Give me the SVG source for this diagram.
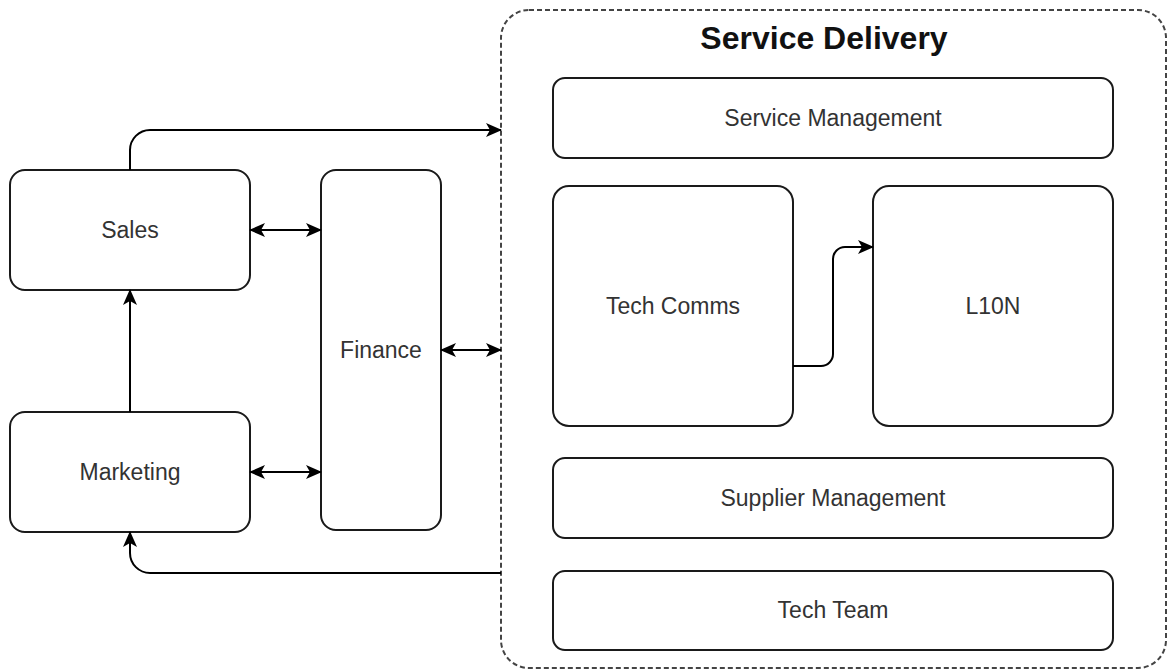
<svg xmlns="http://www.w3.org/2000/svg" width="1168" height="670" viewBox="0 0 1168 670">
  <style>
    .box { fill: #ffffff; stroke: #1a1a1a; stroke-width: 2; }
    .group { fill: none; stroke: #444444; stroke-width: 2; stroke-dasharray: 5 3; }
    .label { font-family: "Liberation Sans", Arial, sans-serif; font-size: 23px; fill: #333333; text-anchor: middle; }
    .title { font-family: "Liberation Sans", Arial, sans-serif; font-size: 32px; font-weight: bold; fill: #111111; text-anchor: middle; }
    .edge { fill: none; stroke: #000000; stroke-width: 2; }
  </style>
  <defs>
    <marker id="arrow" viewBox="0 0 16 14" refX="15" refY="7" markerWidth="16" markerHeight="14" markerUnits="userSpaceOnUse" orient="auto-start-reverse">
      <path d="M0,0 L16,7 L0,14 L4,7 Z" fill="#000000"/>
    </marker>
  </defs>

  <rect width="1168" height="670" fill="#ffffff"/>

  <!-- Service Delivery container -->
  <g id="service-delivery">
    <rect class="group" x="501" y="10" width="665" height="658" rx="28" ry="28"/>
    <text class="title" x="824" y="49">Service Delivery</text>
  </g>

  <g id="sales">
    <rect class="box" x="10" y="170" width="240" height="120" rx="15" ry="15"/>
    <text class="label" x="130" y="238">Sales</text>
  </g>

  <g id="marketing">
    <rect class="box" x="10" y="412" width="240" height="120" rx="15" ry="15"/>
    <text class="label" x="130" y="480">Marketing</text>
  </g>

  <g id="finance">
    <rect class="box" x="321" y="170" width="120" height="360" rx="15" ry="15"/>
    <text class="label" x="381" y="358">Finance</text>
  </g>

  <g id="service-management">
    <rect class="box" x="553" y="78" width="560" height="80" rx="12" ry="12"/>
    <text class="label" x="833" y="126">Service Management</text>
  </g>

  <g id="tech-comms">
    <rect class="box" x="553" y="186" width="240" height="240" rx="16" ry="16"/>
    <text class="label" x="673" y="314">Tech Comms</text>
  </g>

  <g id="l10n">
    <rect class="box" x="873" y="186" width="240" height="240" rx="16" ry="16"/>
    <text class="label" x="993" y="314">L10N</text>
  </g>

  <g id="supplier-management">
    <rect class="box" x="553" y="458" width="560" height="80" rx="12" ry="12"/>
    <text class="label" x="833" y="506">Supplier Management</text>
  </g>

  <g id="tech-team">
    <rect class="box" x="553" y="571" width="560" height="79" rx="12" ry="12"/>
    <text class="label" x="833" y="618">Tech Team</text>
  </g>

  <!-- connectors -->
  <g id="connectors">
    <path class="edge" d="M130 170 V150 A20 20 0 0 1 150 130 H501" marker-end="url(#arrow)"/>
    <path class="edge" d="M250 230 H321" marker-start="url(#arrow)" marker-end="url(#arrow)"/>
    <path class="edge" d="M130 412 V290" marker-end="url(#arrow)"/>
    <path class="edge" d="M250 472 H321" marker-start="url(#arrow)" marker-end="url(#arrow)"/>
    <path class="edge" d="M441 350 H501" marker-start="url(#arrow)" marker-end="url(#arrow)"/>
    <path class="edge" d="M501 573 H150 A20 20 0 0 1 130 553 V532" marker-end="url(#arrow)"/>
    <path class="edge" d="M793 366 H821 A12 12 0 0 0 833 354 V259 A12 12 0 0 1 845 247 H873" marker-end="url(#arrow)"/>
  </g>
</svg>
